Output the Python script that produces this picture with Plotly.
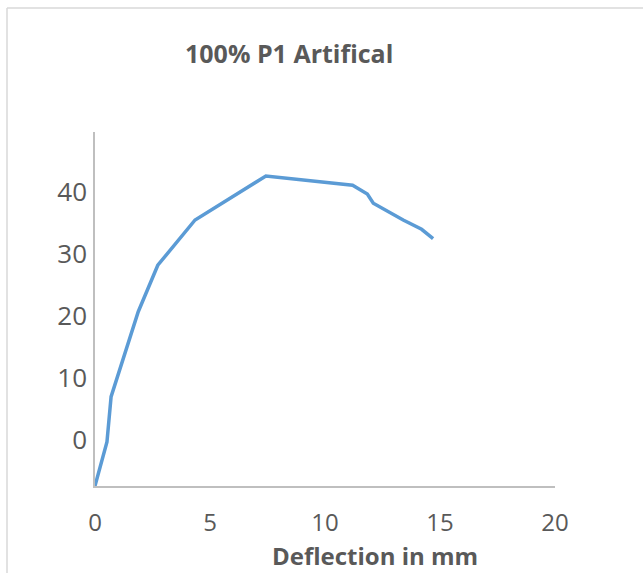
import plotly.graph_objects as go

deflection = [0.0, 0.52, 0.70, 1.27, 1.88, 2.73, 4.35, 7.43, 11.2, 11.84, 12.1, 13.4, 14.2, 14.7]
load = [-7.4, -0.3, 7.0, 13.7, 20.7, 28.2, 35.5, 42.6, 41.1, 39.7, 38.2, 35.5, 34.0, 32.5]

x_ticks = [0, 5, 10, 15, 20]
y_ticks = [0, 10, 20, 30, 40]

title_text = "100% P1 Artifical"
x_title = "Deflection in mm"

W, H = 643, 573
L, R, T, B = 95, 88, 132, 87
pw, ph = W - L - R, H - T - B

def px_to_paper_x(px):
    return (px - L) / pw

def px_to_paper_y(py):
    return (H - B - py) / ph

grey = "#595959"
axis_col = "#bfbfbf"

fig = go.Figure()
fig.add_trace(go.Scatter(x=deflection, y=load, mode="lines",
                         line=dict(color="#5b9bd5", width=3.5), showlegend=False))

fig.update_layout(
    width=W, height=H,
    margin=dict(l=L, r=R, t=T, b=B),
    paper_bgcolor="white", plot_bgcolor="white",
    font=dict(family="Open Sans", color=grey),
    xaxis=dict(range=[0, 20], tickvals=x_ticks, showgrid=False, zeroline=False,
               showline=True, linecolor=axis_col, linewidth=1.5, ticks="",
               tickfont=dict(size=24, color=grey), ticklabelstandoff=14),
    yaxis=dict(range=[-7.42, 49.7], tickvals=y_ticks, showgrid=False, zeroline=False,
               showline=True, linecolor=axis_col, linewidth=1.5, ticks="",
               tickfont=dict(size=26, color=grey), ticklabelstandoff=1),
    annotations=[
        dict(text="<b>" + title_text + "</b>", xref="paper", yref="paper",
             x=px_to_paper_x(289), y=px_to_paper_y(53), showarrow=False,
             xanchor="center", yanchor="middle", font=dict(size=25, color=grey)),
        dict(text="<b>" + x_title + "</b>", xref="paper", yref="paper",
             x=px_to_paper_x(375), y=px_to_paper_y(555), showarrow=False,
             xanchor="center", yanchor="middle", font=dict(size=24, color=grey)),
    ],
    shapes=[
        dict(type="line", xref="paper", yref="paper",
             x0=px_to_paper_x(7), x1=px_to_paper_x(7), y0=px_to_paper_y(8), y1=px_to_paper_y(573),
             line=dict(color="#d9d9d9", width=1.5)),
        dict(type="line", xref="paper", yref="paper",
             x0=px_to_paper_x(7), x1=px_to_paper_x(643), y0=px_to_paper_y(8), y1=px_to_paper_y(8),
             line=dict(color="#d9d9d9", width=1.5)),
    ],
)

fig.write_html("out.html")
